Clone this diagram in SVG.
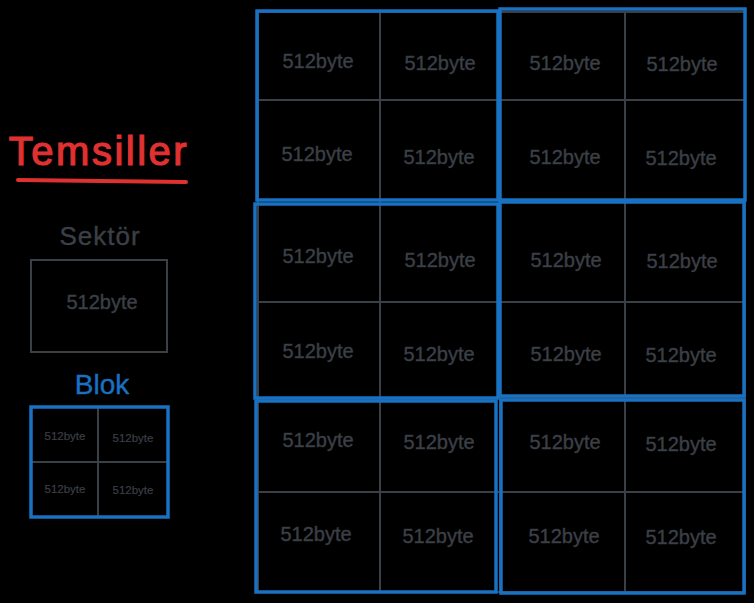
<svg xmlns="http://www.w3.org/2000/svg" width="754" height="603" viewBox="0 0 754 603">
<style>
.g{stroke:#3b3f46;stroke-width:2;fill:none;stroke-linecap:round}
.b{stroke:#1971c2;stroke-width:3.5;fill:none;stroke-linecap:round}
.t{font-family:"Liberation Sans",Arial,sans-serif;fill:#3b3f46;stroke:#3b3f46;stroke-width:0.4;text-anchor:middle;dominant-baseline:central}
.m{font-size:20px}
.s{font-size:11.5px;stroke-width:0.2}
</style>
<rect width="754" height="603" fill="#000"/>
<g id="legend-title">
<text x="99" y="151" font-family="Liberation Sans,Arial,sans-serif" font-size="40" letter-spacing="2.5" fill="#e03131" stroke="#e03131" stroke-width="1.2" text-anchor="middle" dominant-baseline="central">Temsiller</text>
<path d="M18 180 L186 182" stroke="#e03131" stroke-width="4" stroke-linecap="round"/>
</g>
<g id="legend-sector">
<text class="t" x="100" y="236" font-size="26" letter-spacing="1">Sektör</text>
<rect class="g" x="31" y="260" width="136" height="92"/>
<text class="t m" x="102" y="302">512byte</text>
</g>
<g id="legend-block">
<text class="t" x="102" y="384" font-size="28" style="fill:#1971c2;stroke:#1971c2">Blok</text>
<path class="g" d="M98 408 V517 M31 462 H168" stroke-width="2.5"/>
<rect class="b" x="31" y="407" width="137" height="110"/>
<text class="t s" x="65" y="436">512byte</text>
<text class="t s" x="133" y="438">512byte</text>
<text class="t s" x="65" y="489">512byte</text>
<text class="t s" x="133" y="490">512byte</text>
</g>
<g id="grid-lines">
<path class="g" d="M258 12 V592 M380 12 V592 M500 12 V592 M625 12 V592 M745 12 V592 M258 12 H745 M258 100 H745 M258 200 H745 M258 302 H745 M258 398 H745 M258 492 H745 M258 592 H745"/>
</g>
<g id="block-r1c1"><rect class="b" x="257" y="11" width="241" height="189"/></g>
<g id="block-r1c2"><rect class="b" x="500" y="9" width="245" height="191"/></g>
<g id="block-r2c1"><rect class="b" x="255" y="204" width="243" height="194"/></g>
<g id="block-r2c2"><rect class="b" x="500" y="202" width="244" height="194"/></g>
<g id="block-r3c1"><rect class="b" x="256" y="401" width="240" height="191"/></g>
<g id="block-r3c2"><rect class="b" x="501" y="400" width="243" height="193"/></g>
<g id="sectors">
<text class="t m" x="318" y="61">512byte</text>
<text class="t m" x="440" y="63">512byte</text>
<text class="t m" x="565" y="63">512byte</text>
<text class="t m" x="682" y="64">512byte</text>
<text class="t m" x="317" y="154">512byte</text>
<text class="t m" x="439" y="157">512byte</text>
<text class="t m" x="565" y="157">512byte</text>
<text class="t m" x="681" y="158">512byte</text>
<text class="t m" x="318" y="256">512byte</text>
<text class="t m" x="440" y="260">512byte</text>
<text class="t m" x="566" y="260">512byte</text>
<text class="t m" x="682" y="261">512byte</text>
<text class="t m" x="318" y="351">512byte</text>
<text class="t m" x="439" y="354">512byte</text>
<text class="t m" x="566" y="354">512byte</text>
<text class="t m" x="681" y="355">512byte</text>
<text class="t m" x="318" y="440">512byte</text>
<text class="t m" x="439" y="442">512byte</text>
<text class="t m" x="565" y="442">512byte</text>
<text class="t m" x="681" y="444">512byte</text>
<text class="t m" x="316" y="534">512byte</text>
<text class="t m" x="438" y="536">512byte</text>
<text class="t m" x="564" y="536">512byte</text>
<text class="t m" x="681" y="537">512byte</text>
</g>
</svg>
